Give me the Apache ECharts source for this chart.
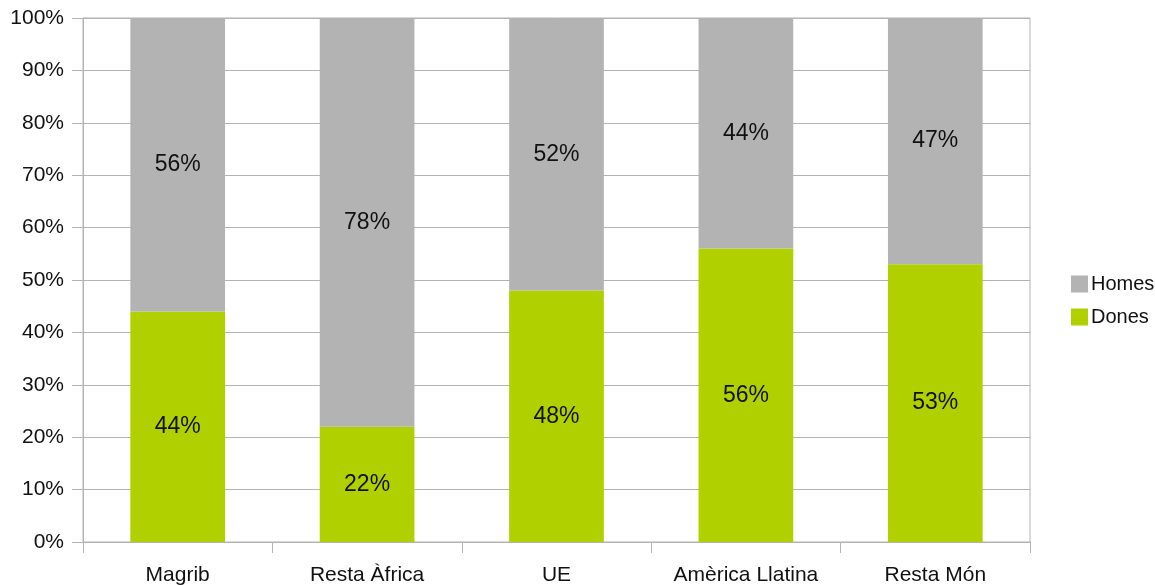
<!DOCTYPE html>
<html>
<head>
<meta charset="utf-8">
<script src="https://cdn.jsdelivr.net/npm/echarts@6/dist/echarts.min.js"></script>
<style>html,body{margin:0;padding:0;background:#fff}#c{width:1155px;height:585px}</style>
</head>
<body>
<div id="c"></div>
<script>
var categories = ['Magrib', 'Resta Àfrica', 'UE', 'Amèrica Llatina', 'Resta Món'];
var dones = [44, 22, 48, 56, 53];
var homes = [56, 78, 52, 44, 47];
var yTicks = [0, 10, 20, 30, 40, 50, 60, 70, 80, 90, 100];

var chart = echarts.init(document.getElementById('c'));
var font = 'Liberation Sans, Arial, sans-serif';
var labelStyle = {show: true, position: 'inside', fontSize: 23, color: '#111', fontFamily: font, formatter: '{c}%'};
chart.setOption({
  animation: false,
  grid: {left: 83, right: 125, top: 18, bottom: 43, show: true, borderColor: '#b3b3b3', borderWidth: 1, outerBoundsMode: 'none', containLabel: false},
  legend: {
    orient: 'vertical', left: 1066, top: 269, itemWidth: 17, itemHeight: 17, itemGap: 13,
    icon: 'rect',
    data: ['Homes', 'Dones'],
    textStyle: {fontSize: 20, color: '#111', fontFamily: font, padding: [6, 0, 0, -2]}
  },
  xAxis: {
    type: 'category', data: categories,
    axisLine: {lineStyle: {color: '#b3b3b3'}},
    axisTick: {show: true, length: 11, lineStyle: {color: '#b3b3b3'}},
    axisLabel: {fontSize: 21, color: '#111', fontFamily: font, margin: 23}
  },
  yAxis: {
    type: 'value', min: 0, max: 100, interval: 10,
    axisLine: {show: true, lineStyle: {color: '#b3b3b3'}},
    axisTick: {show: true, length: 11, lineStyle: {color: '#b3b3b3'}},
    splitLine: {lineStyle: {color: '#b3b3b3'}},
    axisLabel: {fontSize: 21, color: '#111', fontFamily: font, margin: 19,
      formatter: function (v) { return yTicks.indexOf(v) >= 0 ? v + '%' : ''; }}
  },
  series: [
    {name: 'Dones', type: 'bar', stack: 's', data: dones, barWidth: '50%', itemStyle: {color: '#b0d000'}, label: labelStyle},
    {name: 'Homes', type: 'bar', stack: 's', data: homes, barWidth: '50%', itemStyle: {color: '#b3b3b3'}, label: labelStyle}
  ]
});
</script>
</body>
</html>
